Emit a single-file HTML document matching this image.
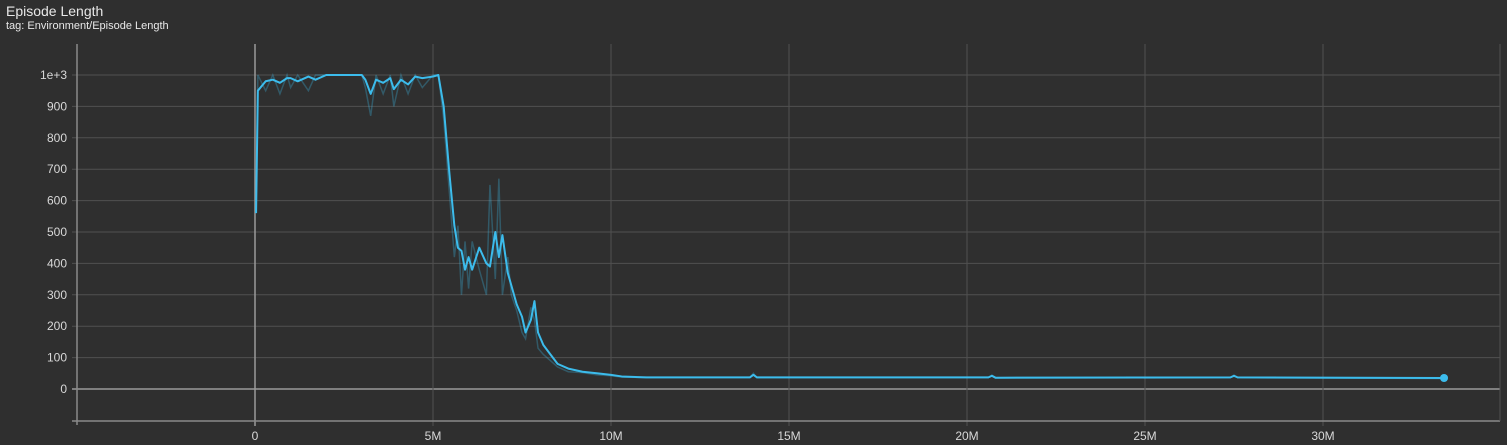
<!DOCTYPE html>
<html><head><meta charset="utf-8"><style>
html,body{margin:0;padding:0;background:#2f2f2f;width:1507px;height:445px;overflow:hidden;font-family:"Liberation Sans",sans-serif}
#t{position:absolute;left:6px;top:3px;color:#e8e8e8;font-size:14px}
#s{position:absolute;left:6px;top:20px;color:#e8e8e8;font-size:11px}
svg{position:absolute;left:0;top:0}
</style></head><body>
<div id="t">Episode Length</div>
<div id="s">tag: Environment/Episode Length</div>
<svg id="c" width="1507" height="445"></svg>
<script>
const yTicks=[0,100,200,300,400,500,600,700,800,900,1000];
const yTickLabels=["0","100","200","300","400","500","600","700","800","900","1e+3"];
const xTicks=[0,5,10,15,20,25,30];
const xTickLabels=["0","5M","10M","15M","20M","25M","30M"];
const steps=[0.03,0.08,0.3,0.5,0.7,0.9,1.0,1.2,1.5,1.7,2.0,3.0,3.1,3.25,3.4,3.6,3.8,3.9,4.1,4.3,4.5,4.7,5.0,5.15,5.3,5.45,5.6,5.7,5.8,5.9,6.0,6.1,6.3,6.5,6.6,6.75,6.85,6.95,7.1,7.2,7.35,7.5,7.6,7.75,7.85,7.95,8.1,8.3,8.5,8.8,9.2,9.6,10,10.3,11,13.9,14,14.1,20.6,20.7,20.8,27.4,27.5,27.6,33.4];
const smoothed=[560,950,980,985,975,990,990,980,995,985,1000,1000,985,940,985,975,990,955,985,970,995,990,995,1000,900,700,520,450,440,380,420,380,450,400,390,500,420,490,370,330,270,230,180,220,280,180,140,110,80,65,55,50,45,40,37,37,45,37,37,42,36,37,42,37,35];
const raw=[560,1000,950,1000,940,1000,960,1000,950,1000,1000,1000,960,870,1000,940,1000,900,1000,940,1000,960,1000,1000,860,640,420,520,300,470,320,470,380,300,650,350,670,300,420,300,250,180,160,260,220,130,110,90,70,55,52,45,42,38,36,37,50,36,36,44,35,36,44,36,33];
const X=v=>255+v*35.6, Y=v=>389-v*0.314;
const svg=document.getElementById('c'),NS='http://www.w3.org/2000/svg';
function mk(t,a,p){const e=document.createElementNS(NS,t);for(const k in a)e.setAttribute(k,a[k]);(p||svg).appendChild(e);return e;}
yTicks.forEach((v,i)=>{
 const l=mk('line',{x1:72,x2:1500,y1:Y(v),y2:Y(v),stroke:v===0?'#9a9a9a':'#515151','stroke-width':v===0?1.5:1});
 
 
 const t=mk('text',{x:67,y:Y(v)+4,fill:'#d8d8d8','font-size':12,'text-anchor':'end'});
 t.textContent=yTickLabels[i];
 
 
});
xTicks.forEach((v,i)=>{
 const l=mk('line',{x1:X(v),x2:X(v),y1:44,y2:426,stroke:v===0?'#9a9a9a':'#515151','stroke-width':v===0?1.5:1});
 
 
 const t=mk('text',{x:X(v),y:440,fill:'#d8d8d8','font-size':12,'text-anchor':'middle'});
 t.textContent=xTickLabels[i];
 
 
});
let a=mk('line',{x1:77,x2:77,y1:44,y2:425,stroke:'#8a8a8a','stroke-width':1.5});


a=mk('line',{x1:72,x2:1500,y1:421,y2:421,stroke:'#8a8a8a','stroke-width':1.5});


a=mk('line',{x1:1500,x2:1500,y1:44,y2:421,stroke:'#515151'});


const rp=mk('polyline',{points:steps.map((s,i)=>X(s)+','+Y(raw[i])).join(' '),fill:'none',stroke:'rgba(60,188,236,0.3)','stroke-width':1.5});


const sp=mk('polyline',{points:steps.map((s,i)=>X(s)+','+Y(smoothed[i])).join(' '),fill:'none',stroke:'#3cbcec','stroke-width':2,'stroke-linejoin':'round'});


const n=steps.length-1;
const d=mk('circle',{cx:X(steps[n]),cy:Y(smoothed[n]),r:4,fill:'#3cbcec'});


</script>
</body></html>
